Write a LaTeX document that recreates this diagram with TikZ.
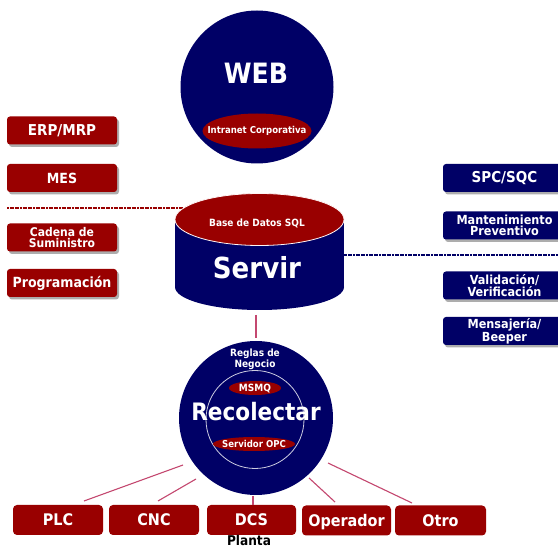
\documentclass[tikz,border=0pt]{standalone}
\usepackage{fontspec}
\setmainfont{DejaVu Sans}[FakeStretch=0.9]
\usetikzlibrary{shadows,shapes.geometric}
\definecolor{navy}{RGB}{0,0,102}
\definecolor{dred}{RGB}{153,0,0}
\definecolor{linkc}{RGB}{196,72,112}
\tikzset{
  fs/.style={font=\fontsize{#1}{#1}\bfseries\selectfont},
  boxbase/.style={fill=#1, text=white, rounded corners=3pt, inner sep=0pt, align=center},
  leftbox/.style={boxbase=dred, minimum width=110pt, minimum height=28pt,
     drop shadow={shadow xshift=2pt, shadow yshift=-2.5pt, fill=black!40, opacity=0.8}},
  rightbox/.style={boxbase=navy, minimum width=123pt, minimum height=28pt,
     drop shadow={shadow xshift=2pt, shadow yshift=-2.5pt, fill=black!40, opacity=0.8}},
  plantbox/.style={boxbase=dred, minimum height=30pt, rounded corners=4pt, fs=16,
     text height=11.6pt, text depth=0pt},
  two/.style={font=\fontsize{12.5}{11}\bfseries\selectfont},
  link/.style={draw=linkc, line width=1.1pt},
  wtext/.style={text=white, inner sep=0pt, align=center}
}
\begin{document}
\begin{tikzpicture}[x=1pt,y=-1pt]
\useasboundingbox[fill=white] (0,0) rectangle (558,548);

% dotted bus lines
\draw[dred, line width=1.4pt, dash pattern=on 2pt off 0.6pt] (7,208) -- (200,208);
\draw[navy, line width=1.4pt, dash pattern=on 2pt off 0.6pt] (340,255) -- (558,255);

% WEB
\node[circle, fill=navy, minimum size=153pt, inner sep=0pt] (web) at (257,87) {};
\node[wtext, fs=28] (webt) at (256,73) {WEB};
\node[ellipse, fill=dred, minimum width=109pt, minimum height=35pt, inner sep=0pt] (intra) at (257,131) {};
\node[wtext, fs=9.5] (intrat) at (257,131) {Intranet Corporativa};

% Servir cylinder
\fill[navy] (175,219.5) rectangle (344,287);
\fill[navy] (259.5,287) ellipse [x radius=84.5, y radius=23];
\fill[dred, draw=white!85!pink, line width=0.8pt] (259.5,219.5) ellipse [x radius=84.5, y radius=26];
\coordinate (srvbot) at (256,315);
\node[wtext, fs=10] (sql) at (257,223) {Base de Datos SQL};
\node[wtext, fs=29] (servir) at (257,268) {Servir};

% Recolectar
\node[circle, fill=navy, minimum size=154pt, inner sep=0pt] (rec) at (256,418) {};
\draw[white!80!navy, line width=0.8pt] (255,419.5) circle [radius=49];
\node[wtext, font=\fontsize{10}{9.3}\bfseries\selectfont] (reglas) at (255,359) {Reglas de\\Negocio};
\node[ellipse, fill=dred, minimum width=52pt, minimum height=14pt, inner sep=0pt] (msmq) at (255,388) {};
\node[wtext, fs=10] (msmqt) at (255,388.5) {MSMQ};
\node[wtext, fs=24] (rect) at (256,412) {Recolectar};
\node[ellipse, fill=dred, minimum width=82pt, minimum height=14pt, inner sep=0pt] (opc) at (254,444) {};
\node[wtext, fs=9.5] (opct) at (254,444) {Servidor OPC};

% left boxes
\node[leftbox, fs=15] (erp) at (62,130.5) {ERP/MRP};
\node[leftbox, fs=14] (mes) at (62,178) {MES};
\node[leftbox, font=\fontsize{12}{11}\bfseries\selectfont] (cad) at (62,237.5) {Cadena de\\Suministro};
\node[leftbox, fs=14] (prog) at (62,283) {Programación};

% right boxes
\node[rightbox, fs=15] (spc) at (504.5,178) {SPC/SQC};
\node[rightbox, two] (mant) at (504.5,225.5) {Mantenimiento\\Preventivo};
\node[rightbox, two] (valid) at (504.5,285.5) {Validación/\\Verificación};
\node[rightbox, two] (mens) at (504.5,331) {Mensajería/\\Beeper};

% plant boxes
\node[plantbox, minimum width=90pt] (plc) at (58,520) {PLC};
\node[plantbox, minimum width=90pt] (cnc) at (154,520) {CNC};
\node[plantbox, minimum width=89pt] (dcs) at (251.5,520) {DCS};
\node[plantbox, minimum width=89pt] (oper) at (346.5,520.5) {Operador};
\node[plantbox, minimum width=91pt] (otro) at (440.5,520.5) {Otro};
\node[inner sep=0pt, anchor=base, text=black, fs=13.5] (planta) at (249,545.5) {Planta};

% connectors
\coordinate (rectop) at (256,338);
\coordinate (r1) at (183,465); \coordinate (p1) at (84,501);
\coordinate (r2) at (196,479); \coordinate (p2) at (158,501);
\coordinate (r3) at (253,496); \coordinate (p3) at (253,505);
\coordinate (r4) at (309,478); \coordinate (p4) at (335,502);
\coordinate (r5) at (328,463); \coordinate (p5) at (412,503);
\draw[link] (srvbot) -- (rectop);
\draw[link] (r1) -- (p1);
\draw[link] (r2) -- (p2);
\draw[link] (r3) -- (p3);
\draw[link] (r4) -- (p4);
\draw[link] (r5) -- (p5);
\end{tikzpicture}
\end{document}
